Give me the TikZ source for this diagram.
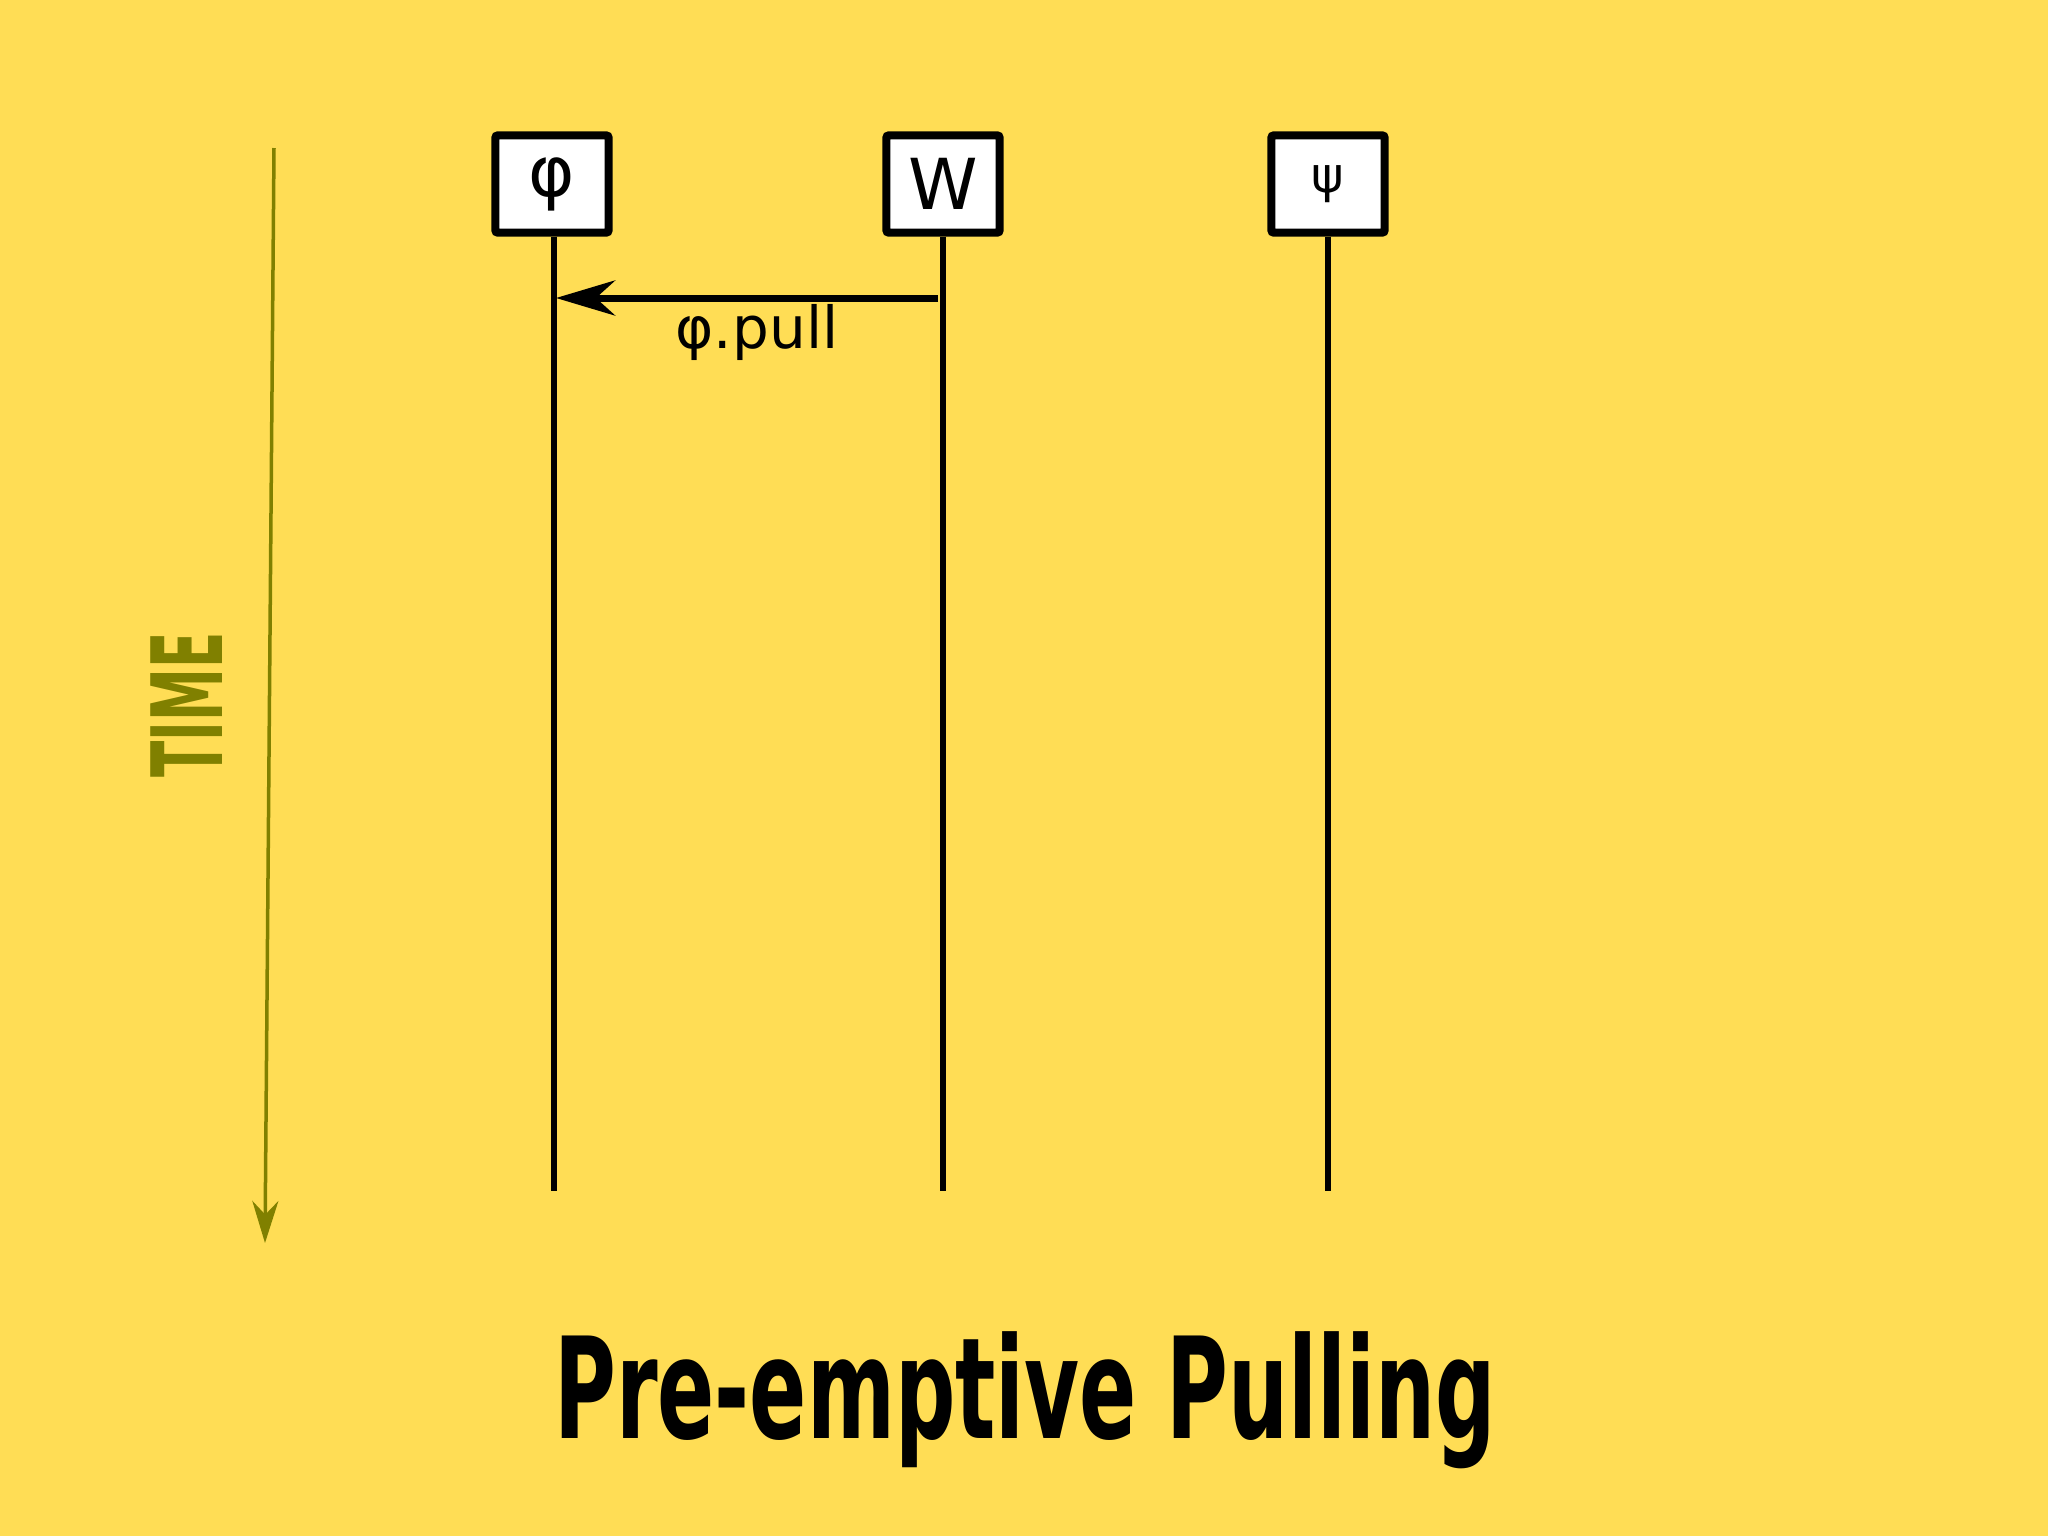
\documentclass[tikz,border=0pt]{standalone}
\usepackage{fontspec}
\setmainfont{DejaVu Sans}
\usetikzlibrary{arrows.meta}
\definecolor{bgyellow}{RGB}{255,221,85}
\definecolor{timeolive}{RGB}{128,128,0}
\tikzset{
    actor/.style={draw=black, line width=0.08cm, fill=white, minimum width=1.13cm, minimum height=0.97cm, rounded corners=0.02cm, inner sep=0pt},
    lifeline/.style={black, line width=0.06cm},
}
\begin{document}
\begin{tikzpicture}[x=0.01cm, y=-0.01cm]
    \fill[bgyellow] (0,0) rectangle (2048,1536);
    \useasboundingbox (0,0) rectangle (2048,1536);
    % actors
    \node[actor, font=\fontsize{20}{24}\selectfont] (phi) at (552,184) {φ};
    \node[actor, font=\fontsize{20}{24}\selectfont] (w) at (943,184) {W};
    \node[actor, font=\fontsize{14}{16}\selectfont] (psi) at (1328,184) {ψ};
    \coordinate (phiend) at (554,1191);
    \coordinate (wend) at (943,1191);
    \coordinate (psiend) at (1328,1191);
    \draw[lifeline] (phi.south) ++(2,0) -- (phiend);
    \draw[lifeline] (w.south) -- (wend);
    \draw[lifeline] (psi.south) -- (psiend);
    % message
    \coordinate (pullstart) at (938,298);
    \coordinate (pullend) at (556,298);
    \draw[black, line width=0.07cm, -{Stealth[length=0.59cm, width=0.35cm]}] (pullstart) -- (pullend) node[pos=0.474, yshift=-0.34cm, font=\fontsize{16.5}{20}\selectfont] (pull) {φ.pull};
    % time axis
    \coordinate (timetop) at (274,148);
    \coordinate (timebot) at (265,1243);
    \draw[timeolive, line width=0.035cm, -{Stealth[length=0.42cm, width=0.26cm]}] (timetop) -- (timebot);
    \node[timeolive, rotate=90, font=\bfseries\fontsize{28}{30}\selectfont] (timelabel) at (187,705) {\scalebox{0.54}[1]{TIME}};
    % title
    \node[black, font=\bfseries\fontsize{40}{44}\selectfont] (title) at (1025,1400) {\scalebox{0.6}[1]{Pre-emptive Pulling}};
\end{tikzpicture}
\end{document}
